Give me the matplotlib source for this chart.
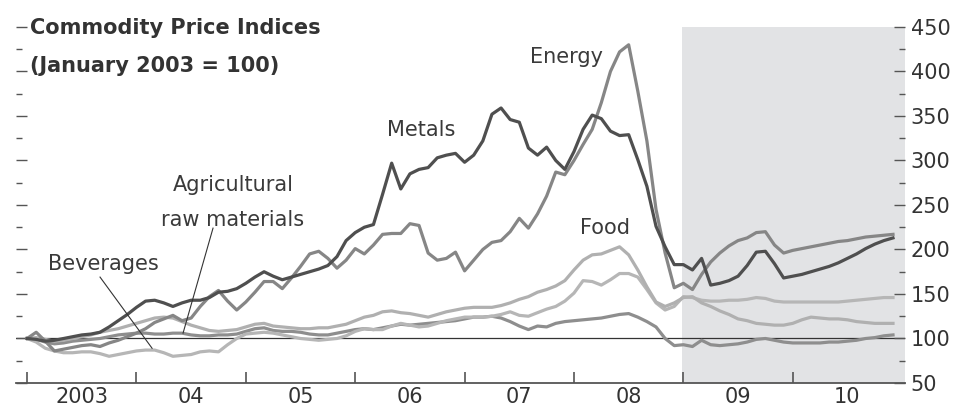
import numpy as np
import matplotlib
matplotlib.use("Agg")
import matplotlib.pyplot as plt
from matplotlib.ticker import MultipleLocator, FixedLocator

plt.rcParams['font.family'] = ['Liberation Sans Narrow', 'DejaVu Sans Condensed', 'DejaVu Sans']

# monthly index values, Jan 2003 .. Dec 2010 (January 2003 = 100)
metals = [100, 99, 97, 98, 100, 102, 104, 105, 107, 113, 120, 127,
          135, 142, 143, 140, 136, 140, 143, 143, 146, 152, 153, 156,
          162, 169, 175, 170, 166, 169, 172, 175, 178, 182, 192, 210,
          219, 225, 228, 262, 297, 268, 285, 290, 292, 303, 306, 308,
          298, 306, 322, 352, 359, 346, 343, 314, 306, 315, 300, 290,
          310, 335, 351, 347, 333, 328, 329, 301, 271, 226, 203, 183,
          183, 177, 190, 160, 162, 165, 170, 182, 197, 198, 184, 168,
          170, 172, 175, 178, 181, 185, 190, 195, 201, 206, 210, 213]
energy = [100, 107, 97, 86, 88, 90, 92, 93, 91, 95, 98, 102,
          106, 111, 118, 122, 126, 120, 123, 136, 147, 154, 142, 132,
          141, 152, 164, 164, 156, 168, 181, 195, 198, 190, 179, 188,
          201, 195, 205, 217, 218, 218, 229, 227, 196, 188, 190, 197,
          176, 188, 200, 208, 210, 220, 235, 224, 240, 260, 287, 284,
          300, 318, 335, 365, 400, 422, 430, 378, 322, 245, 196, 157,
          162, 155, 172, 186, 196, 204, 210, 213, 219, 220, 205, 196,
          199, 201, 203, 205, 207, 209, 210, 212, 214, 215, 216, 217]
food = [100, 101, 99, 97, 98, 100, 102, 104, 107, 109, 111, 114,
        117, 120, 123, 124, 123, 119, 115, 112, 109, 108, 109, 110,
        113, 116, 117, 114, 113, 112, 111, 111, 112, 112, 114, 116,
        120, 124, 126, 130, 131, 129, 128, 126, 124, 127, 130, 132,
        134, 135, 135, 135, 137, 140, 144, 147, 152, 155, 159, 165,
        177, 188, 194, 195, 199, 203, 194, 177, 158, 141, 136, 140,
        146, 147, 140, 136, 131, 127, 122, 120, 117, 116, 115, 115,
        117, 121, 124, 123, 122, 122, 121, 119, 118, 117, 117, 117]
beverages = [100, 96, 89, 86, 84, 84, 85, 85, 83, 80, 82, 84,
             86, 87, 87, 84, 80, 81, 82, 85, 86, 85, 93, 100,
             105, 106, 107, 106, 104, 102, 100, 99, 98, 99, 100, 103,
             108, 111, 110, 110, 114, 117, 115, 113, 114, 117, 120, 122,
             124, 124, 124, 125, 127, 130, 126, 125, 129, 133, 136, 142,
             151, 165, 164, 160, 166, 173, 173, 169, 155, 140, 132, 136,
             147, 146, 143, 142, 142, 143, 143, 144, 146, 145, 142, 141,
             141, 141, 141, 141, 141, 141, 142, 143, 144, 145, 146, 146]
agri = [100, 99, 96, 94, 95, 97, 98, 99, 100, 102, 104, 105,
        106, 106, 105, 105, 106, 106, 104, 103, 103, 104, 104, 105,
        108, 111, 112, 109, 108, 108, 107, 105, 104, 104, 106, 108,
        110, 111, 110, 112, 114, 116, 115, 116, 117, 118, 119, 120,
        122, 124, 124, 125, 123, 119, 114, 110, 114, 113, 117, 119,
        120, 121, 122, 123, 125, 127, 128, 124, 119, 113, 100, 92,
        93, 91, 98, 93, 92, 93, 94, 96, 99, 100, 98, 96,
        95, 95, 95, 95, 96, 96, 97, 98, 100, 101, 103, 104]

years = [2003, 2004, 2005, 2006, 2007, 2008, 2009, 2010]
year_labels = ['2003', '04', '05', '06', '07', '08', '09', '10']
t = 2003 + np.arange(len(metals)) / 12.0

fig = plt.figure(figsize=(9.54, 4.12), dpi=100)
ax = fig.add_axes([0.0168, 0.0704, 0.9318, 0.8641])

ax.axvspan(2008.99, 2011.2, color='#e2e3e5', lw=0, zorder=0)
ax.axhline(100, color='#333333', lw=0.9, zorder=1)

lw = 2.3
ax.plot(t, agri, color='#8e8e8e', lw=lw, zorder=2)
ax.plot(t, beverages, color='#b6b6b6', lw=lw, zorder=2)
ax.plot(t, food, color='#b0b0b0', lw=lw, zorder=2)
ax.plot(t, energy, color='#868686', lw=lw, zorder=3)
ax.plot(t, metals, color='#4f4f4f', lw=lw, zorder=4)

ax.set_xlim(2002.899, 2011.026)
ax.set_ylim(50, 450)

for s in ['top', 'left', 'right']:
    ax.spines[s].set_visible(False)
ax.spines['bottom'].set_color('#555555')
ax.spines['bottom'].set_linewidth(1.3)

ax.yaxis.set_major_locator(MultipleLocator(50))
ax.yaxis.set_minor_locator(MultipleLocator(25))
ax.tick_params(axis='y', which='both', direction='in', left=True, right=True,
               labelleft=False, labelright=True, colors='#555555',
               labelcolor='#333333', labelsize=15, pad=4)
ax.tick_params(axis='y', which='major', length=8, width=1)
ax.tick_params(axis='y', which='minor', length=4, width=1)

ax.xaxis.set_major_locator(FixedLocator(years))
ax.xaxis.set_minor_locator(FixedLocator([y + 0.5 for y in years]))
ax.xaxis.set_major_formatter(plt.NullFormatter())
ax.xaxis.set_minor_formatter(plt.FixedFormatter(year_labels))
ax.tick_params(axis='x', which='major', direction='in', length=8, width=1.2,
               color='#555555')
ax.tick_params(axis='x', which='minor', length=0, labelsize=15,
               labelcolor='#333333', pad=3)

txt = dict(color='#3a3a3a', fontsize=15, ha='center', va='center')
ax.text(2007.936, 416, 'Energy', **txt)
ax.text(2006.601, 334, 'Metals', **txt)
ax.text(2008.283, 224, 'Food', **txt)
ax.text(2004.883, 272, 'Agricultural', **txt)
ax.text(2004.883, 233, 'raw materials', **txt)
ax.text(2003.695, 184, 'Beverages', **txt)

ax.plot([2003.667, 2004.143], [169, 89], color='#333333', lw=0.8, zorder=5)
ax.plot([2004.70, 2004.426], [224, 106], color='#333333', lw=0.8, zorder=5)

fig.text(0.031, 0.932, 'Commodity Price Indices', fontsize=15,
         fontweight='bold', color='#333333', va='center')
fig.text(0.031, 0.840, '(January 2003 = 100)', fontsize=15,
         fontweight='bold', color='#333333', va='center')

fig.savefig('out.png', dpi=100)
